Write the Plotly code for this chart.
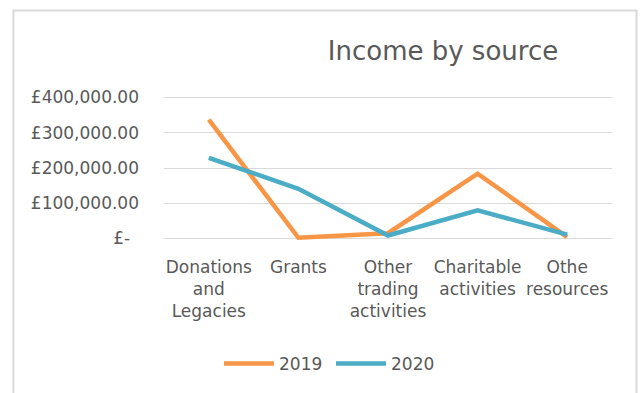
import plotly.graph_objects as go

categories = ["Donations<br>and<br>Legacies", "Grants", "Other<br>trading<br>activities",
              "Charitable<br>activities", "Othe<br>resources"]
series_2019 = [337000, 2000, 15000, 184000, 4000]
series_2020 = [229000, 141000, 8500, 80000, 11000]
tick_values = [0, 100000, 200000, 300000, 400000]
tick_labels = ["£-\u00a0\u2009", "£100,000.00", "£200,000.00", "£300,000.00", "£400,000.00"]

W, H = 641, 393
L, R, T, B = 164, 29, 94, 151
pw, ph = W - L - R, H - T - B

FONT = "DejaVu Sans"
GRAY = "#595959"

fig = go.Figure()
fig.add_trace(go.Scatter(x=list(range(len(categories))), y=series_2019, mode="lines", name="2019",
                         line=dict(color="#F79646", width=4.5)))
fig.add_trace(go.Scatter(x=list(range(len(categories))), y=series_2020, mode="lines", name="2020",
                         line=dict(color="#4BACC6", width=4.5)))

def px_x(px):
    return (px - L) / pw

def px_y(py):
    return (H - B - py) / ph

fig.add_shape(type="rect", xref="paper", yref="paper",
              x0=px_x(13.5), x1=px_x(636.5), y0=px_y(420), y1=px_y(10.5),
              line=dict(color="#D9D9D9", width=2), layer="below")

fig.update_layout(
    width=W, height=H,
    margin=dict(l=L, r=R, t=T, b=B, pad=0, autoexpand=False),
    paper_bgcolor="white", plot_bgcolor="white",
    font=dict(family=FONT, size=17, color=GRAY),
    title=dict(text="Income by source", font=dict(family=FONT, size=26, color=GRAY),
               xref="container", yref="container", x=443 / W, xanchor="center",
               y=1 - 51 / H, yanchor="middle"),
    showlegend=True,
    legend=dict(orientation="h", xref="container", x=331 / W, xanchor="center",
                yref="container", y=1 - 364 / H, yanchor="middle",
                font=dict(family=FONT, size=17, color=GRAY), itemwidth=50,
                entrywidth=47, bgcolor="rgba(0,0,0,0)"),
)
fig.update_xaxes(tickmode="array", tickvals=list(range(len(categories))), ticktext=categories,
                 range=[-0.5, len(categories) - 0.5], showgrid=False, zeroline=False,
                 showline=False, ticks="", ticklabelstandoff=13, tickangle=0, automargin=False,
                 tickfont=dict(family=FONT, size=17, color=GRAY))
fig.update_yaxes(tickmode="array", tickvals=tick_values, ticktext=tick_labels,
                 range=[-10000, 410000], showgrid=True, gridcolor="#D9D9D9", gridwidth=1.3,
                 zeroline=False, showline=False, ticks="", ticklabelstandoff=24, automargin=False,
                 tickfont=dict(family=FONT, size=17, color=GRAY))

fig.write_html("out.html")
